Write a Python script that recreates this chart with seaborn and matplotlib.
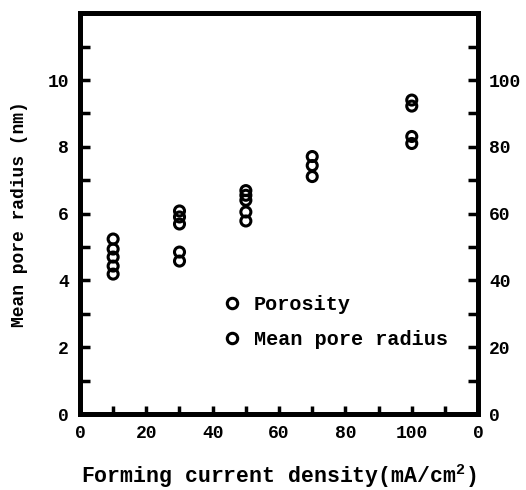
import numpy as np
import pandas as pd
import matplotlib
matplotlib.use("Agg")
import matplotlib.pyplot as plt
from matplotlib.lines import Line2D
import seaborn as sns

# Data
por_x = [10, 10, 10, 30, 30, 30, 50, 50, 50, 70, 100, 100]
por_y = [52.4, 49.4, 47.0, 60.8, 59.0, 56.9, 66.9, 65.5, 64.0, 74.4, 83.1, 81.0]   # porosity (%), right axis
rad_x = [10, 10, 30, 30, 50, 50, 70, 70, 100, 100]
rad_y = [4.43, 4.19, 4.85, 4.58, 6.05, 5.78, 7.71, 7.11, 9.40, 9.22]              # mean pore radius (nm), left axis

x_ticks = [0, 20, 40, 60, 80, 100, 120]
x_tick_labels = ["0", "20", "40", "60", "80", "100", "0"]
left_ticks = [0, 2, 4, 6, 8, 10]
right_ticks = [0, 20, 40, 60, 80, 100]

sns.set_style("ticks", {"axes.edgecolor": "black", "xtick.color": "black",
                        "ytick.color": "black", "text.color": "black",
                        "axes.labelcolor": "black"})
plt.rcParams['font.family'] = ['Liberation Mono', 'DejaVu Sans']
plt.rcParams['font.weight'] = 'bold'
plt.rcParams['mathtext.default'] = 'regular'

fig = plt.figure(figsize=(5.26, 4.90), dpi=100)
ax = fig.add_axes([0.152, 0.155, 0.757, 0.818])
ax2 = ax.twinx()

df_r = pd.DataFrame({"x": rad_x, "y": rad_y})
df_p = pd.DataFrame({"x": por_x, "y": por_y})

mk = dict(marker="o", s=52, facecolor="none", edgecolor="black", linewidth=2.2, legend=False)
sns.scatterplot(data=df_r, x="x", y="y", ax=ax, **mk)
sns.scatterplot(data=df_p, x="x", y="y", ax=ax2, **mk)

ax.set_xlim(0, 120)
ax.set_ylim(0, 12)
ax2.set_ylim(0, 120)

fs = 13
ax.set_xticks(x_ticks)
ax.set_xticklabels(x_tick_labels, fontsize=fs, fontweight="bold")
ax.set_xticks(np.arange(10, 120, 10), minor=True)
ax.set_yticks(left_ticks)
ax.set_yticklabels([str(t) for t in left_ticks], fontsize=fs, fontweight="bold")
ax.set_yticks(np.arange(1, 12, 2), minor=True)
ax2.set_yticks(right_ticks)
ax2.set_yticklabels([str(t) for t in right_ticks], fontsize=fs, fontweight="bold")
ax2.set_yticks(np.arange(10, 120, 20), minor=True)

for a in (ax, ax2):
    a.tick_params(which="both", direction="in", width=2.5, length=7, pad=8, color="black")
    for sp in a.spines.values():
        sp.set_linewidth(3.5)
        sp.set_color("black")
        sp.set_visible(True)
ax.tick_params(axis="x", which="both", top=False, length=6)
ax.tick_params(axis="y", right=False)
ax2.tick_params(axis="y", left=False)

ax.set_xlabel("Forming current density(mA/cm$^{2}$)", fontsize=15.5, fontweight="bold", labelpad=14)
ax.set_ylabel("Mean pore radius (nm)", fontsize=13, fontweight="bold", labelpad=14)
ax2.set_ylabel("")

handles = [
    Line2D([], [], marker="o", linestyle="none", markerfacecolor="none",
           markeredgecolor="black", markeredgewidth=2.2, markersize=7.5),
    Line2D([], [], marker="o", linestyle="none", markerfacecolor="none",
           markeredgecolor="black", markeredgewidth=2.2, markersize=7.5),
]
ax2.legend(handles, ["Porosity", "Mean pore radius"], frameon=False,
           loc="center left", bbox_to_anchor=(0.31, 0.23),
           handletextpad=0.6, labelspacing=0.8, handlelength=1.0,
           prop={"family": ["Liberation Mono"], "weight": "bold", "size": 14.5})

fig.savefig("out.png", dpi=100)
